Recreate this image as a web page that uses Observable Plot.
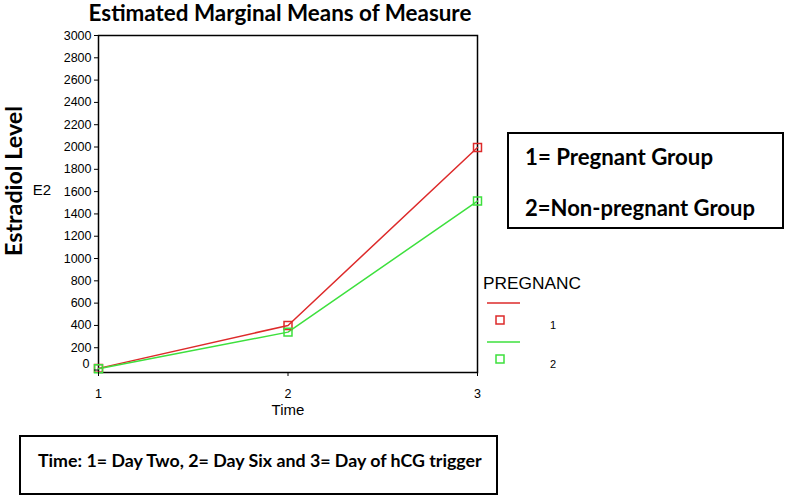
<!DOCTYPE html>
<html><head><meta charset="utf-8">
<script src="https://cdn.jsdelivr.net/npm/d3@7"></script>
<script src="https://cdn.jsdelivr.net/npm/@observablehq/plot@0.6"></script>
<style>body{margin:0;background:#fff;} #c{width:786px;height:496px;}</style>
</head><body><div id="c"></div>
<script>
const times = [1, 2, 3];
const timeLabels = ["1", "2", "3"];
const pregnantValues = [15, 400, 1995];
const nonPregnantValues = [12, 340, 1515];
const groups = ["1", "2"];
const groupColors = ["#dd2a2a", "#3de03d"];
const yTicks = [0,200,400,600,800,1000,1200,1400,1600,1800,2000,2200,2400,2600,2800,3000];

const data = [];
times.forEach((t,i)=>{
  data.push({time:t, value:pregnantValues[i], group:groups[0]});
  data.push({time:t, value:nonPregnantValues[i], group:groups[1]});
});

const chart = Plot.plot({
  width: 786, height: 496,
  marginLeft: 98, marginTop: 35, marginRight: 309, marginBottom: 124,
  style: {fontFamily: "Liberation Sans, Arial, sans-serif", fontSize: "12px", color: "#000", background: "#fff"},
  x: {domain: [1, 3], label: null},
  y: {domain: [-22, 3000], label: null},
  color: {domain: groups, range: groupColors},
  marks: [
    Plot.frame({stroke: "#000", strokeWidth: 1.5}),
    Plot.line(data, {x: "time", y: "value", z: "group", stroke: "group", strokeWidth: 1.5}),
    Plot.dot(data, {x: "time", y: "value", stroke: "group", symbol: "square", r: 4.5, strokeWidth: 1.5, fill: "none"}),
    Plot.axisX({ticks: times, tickFormat: (d,i)=>timeLabels[i], tickSize: 4, tickPadding: 13, fontSize: 12.5, label: null}),
    Plot.axisY({ticks: yTicks, tickFormat: d => d === 0 ? "" : String(d), tickSize: 4, tickPadding: 3, fontSize: 12.5, label: null}),
    Plot.axisY({ticks: [0], tickFormat: d => String(d), tickSize: 0, tickPadding: 9, dy: -6, fontSize: 12.5, label: null})
  ]
});
document.getElementById("c").appendChild(chart);

const svg = d3.select(chart);
const bold = "Lato, 'Open Sans', sans-serif";
const sans = "Liberation Sans, Arial, sans-serif";
function fit(sel, target){
  const n = sel.node();
  const fs = parseFloat(sel.attr("font-size"));
  const w = n.getComputedTextLength();
  if (w > 0) sel.attr("font-size", (fs * target / w).toFixed(2));
  return sel;
}
fit(svg.append("text").attr("x", 280).attr("y", 21).attr("text-anchor","middle")
  .attr("font-family", bold).attr("font-weight","bold").attr("font-size", 18).text("Estimated Marginal Means of Measure"), 383);
fit(svg.append("text").attr("transform","translate(22,181) rotate(-90)").attr("text-anchor","middle")
  .attr("font-family", bold).attr("font-weight","bold").attr("font-size", 20).text("Estradiol Level"), 150);
svg.append("text").attr("x", 42).attr("y", 190).attr("dy","0.35em").attr("text-anchor","middle")
  .attr("font-family", sans).attr("font-size", 15).text("E2");
svg.append("text").attr("x", 288).attr("y", 410).attr("dy","0.35em").attr("text-anchor","middle")
  .attr("font-family", sans).attr("font-size", 15).text("Time");

// legend
fit(svg.append("text").attr("x", 483).attr("y", 283).attr("dy","0.35em").attr("text-anchor","start")
  .attr("font-family", sans).attr("font-size", 14.5).text("PREGNANC"), 98);
const legY = [303, 342];
groups.forEach((g,i)=>{
  const y = legY[i];
  svg.append("line").attr("x1",487).attr("x2",520).attr("y1",y).attr("y2",y).attr("stroke",groupColors[i]).attr("stroke-width",1.5);
  svg.append("rect").attr("x",496).attr("y",y+13).attr("width",8).attr("height",8).attr("fill","none").attr("stroke",groupColors[i]).attr("stroke-width",1.5);
  svg.append("text").attr("x",553).attr("y",y+22).attr("dy","0.35em").attr("text-anchor","middle")
    .attr("font-family", sans).attr("font-size", 11).text(g);
});

// group box
svg.append("rect").attr("x",508).attr("y",133).attr("width",275).attr("height",95).attr("fill","#fff").attr("stroke","#000").attr("stroke-width",2);
fit(svg.append("text").attr("x",525).attr("y",165).attr("text-anchor","start").attr("font-family",bold).attr("font-weight","bold").attr("font-size",20).text("1= Pregnant Group"), 188);
fit(svg.append("text").attr("x",525).attr("y",216).attr("text-anchor","start").attr("font-family",bold).attr("font-weight","bold").attr("font-size",20).text("2=Non-pregnant Group"), 230);

// time box
svg.append("rect").attr("x",20).attr("y",436).attr("width",477).attr("height",58).attr("fill","#fff").attr("stroke","#000").attr("stroke-width",2);
fit(svg.append("text").attr("x",38).attr("y",467).attr("text-anchor","start").attr("font-family",bold).attr("font-weight","bold").attr("font-size",20).text("Time: 1= Day Two, 2= Day Six and 3= Day of hCG trigger"), 444);
</script></body></html>
